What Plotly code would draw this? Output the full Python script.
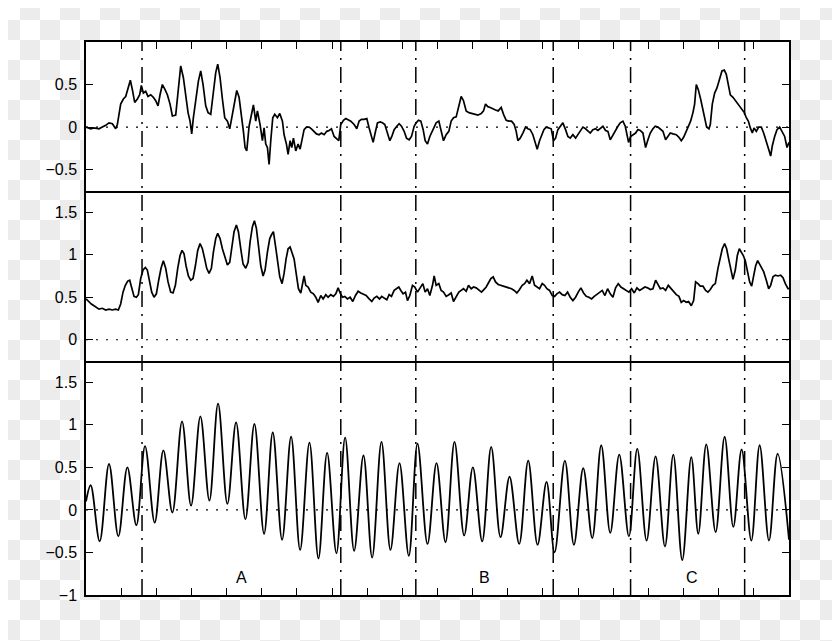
import base64
import plotly.graph_objects as go
from plotly.subplots import make_subplots

# ---------------- data (x in samples, y in signal units) ----------------
top_pts = [
    (0, 0.00), (14, -0.02), (24, -0.01), (39, -0.02), (49, 0.00), (59, 0.02), (69, 0.05), (79, 0.04),
    (89, -0.02), (94, 0.03), (104, 0.27), (112, 0.33), (119, 0.36), (126, 0.46), (133, 0.55), (139, 0.44),
    (146, 0.29), (154, 0.33), (161, 0.38), (166, 0.49), (172, 0.40), (179, 0.42), (186, 0.36), (194, 0.38),
    (202, 0.35), (209, 0.31), (216, 0.25), (222, 0.38), (229, 0.50), (237, 0.44), (244, 0.38), (252, 0.27),
    (259, 0.13), (269, 0.14), (276, 0.42), (284, 0.72), (292, 0.58), (299, 0.35), (306, 0.17), (312, 0.07),
    (317, -0.08), (322, 0.11), (329, 0.31), (337, 0.54), (344, 0.66), (351, 0.50), (359, 0.25), (366, 0.17),
    (374, 0.15), (382, 0.38), (389, 0.64), (395, 0.74), (402, 0.58), (409, 0.33), (416, 0.11), (424, 0.07),
    (431, -0.02), (439, 0.15), (446, 0.31), (452, 0.43), (459, 0.35), (466, 0.15), (472, -0.05), (477, -0.24),
    (482, -0.28), (489, 0.01), (496, 0.13), (502, 0.26), (509, 0.07), (514, 0.19), (522, 0.03), (529, -0.16),
    (534, -0.01), (539, -0.20), (544, -0.24), (549, -0.44), (554, -0.16), (560, 0.11), (566, 0.15), (574, 0.11),
    (581, 0.16), (589, 0.07), (594, -0.09), (601, -0.20), (606, -0.32), (612, -0.16), (617, -0.24), (622, -0.13),
    (629, -0.28), (636, -0.20), (642, -0.26), (647, -0.15), (654, -0.03), (661, 0.00), (669, 0.00), (676, -0.02),
    (684, -0.05), (691, -0.08), (699, -0.09), (706, -0.07), (714, -0.09), (722, -0.05), (729, -0.04), (736, -0.02),
    (744, -0.11), (751, -0.13), (758, -0.16), (764, 0.03), (772, 0.08), (779, 0.10), (786, 0.09), (794, 0.07),
    (804, 0.03), (812, -0.02), (819, 0.07), (826, 0.09), (834, 0.09), (842, 0.10), (849, -0.01), (856, -0.13),
    (861, -0.18), (867, -0.07), (874, 0.05), (882, 0.06), (889, 0.05), (896, 0.03), (904, -0.07), (911, -0.16),
    (917, -0.11), (924, -0.03), (932, 0.01), (939, 0.04), (946, 0.01), (954, -0.05), (961, -0.13), (969, -0.15),
    (976, -0.11), (984, 0.01), (990, 0.05), (997, 0.08), (1004, 0.07), (1011, -0.03), (1017, -0.16), (1024, -0.20),
    (1031, -0.11), (1039, -0.05), (1046, 0.01),
    (1050, 0.05), (1058, 0.07), (1065, -0.04), (1072, -0.16), (1080, -0.09), (1088, -0.05), (1095, 0.07),
    (1102, 0.11), (1110, 0.12), (1117, 0.23), (1125, 0.36), (1132, 0.31), (1140, 0.19), (1148, 0.17), (1155, 0.16),
    (1165, 0.15), (1175, 0.14), (1185, 0.16), (1192, 0.19), (1198, 0.27), (1205, 0.24), (1212, 0.23), (1220, 0.21),
    (1228, 0.20), (1236, 0.19), (1245, 0.23), (1252, 0.15), (1260, 0.08), (1268, 0.07), (1276, 0.07), (1284, 0.03),
    (1290, -0.05), (1295, -0.16), (1302, -0.13), (1310, -0.07), (1318, 0.00), (1325, -0.02), (1332, -0.03),
    (1340, -0.09), (1347, -0.20), (1353, -0.26), (1360, -0.16), (1366, -0.09), (1373, -0.03), (1380, 0.00),
    (1388, -0.01), (1395, -0.02), (1402, -0.16), (1408, -0.13), (1415, -0.03), (1422, 0.01), (1430, 0.05),
    (1438, -0.03), (1445, -0.11), (1452, -0.13), (1460, -0.09), (1468, -0.13), (1475, -0.09), (1483, -0.04),
    (1490, 0.00), (1498, -0.02), (1505, -0.05), (1512, -0.07), (1520, -0.03), (1528, -0.02), (1535, -0.04),
    (1542, -0.02), (1550, 0.01), (1558, -0.04), (1565, -0.05), (1572, -0.15), (1580, -0.09), (1587, -0.04),
    (1595, 0.01), (1602, 0.05), (1610, 0.07), (1617, 0.01), (1622, -0.07), (1627, -0.18), (1633, -0.11),
    (1640, -0.09), (1648, -0.07), (1655, -0.03), (1662, -0.04), (1670, -0.07), (1678, -0.24), (1685, -0.15),
    (1692, -0.07), (1700, -0.02), (1707, 0.01), (1715, 0.00), (1722, -0.02), (1730, -0.05), (1738, -0.15),
    (1745, -0.11), (1752, -0.07), (1760, -0.08), (1770, -0.09), (1778, -0.12), (1785, -0.16), (1792, -0.12),
    (1800, -0.05), (1807, 0.01), (1813, 0.07), (1820, 0.17), (1825, 0.27), (1830, 0.50), (1836, 0.44),
    (1843, 0.33), (1850, 0.19), (1856, 0.07), (1861, 0.00), (1868, -0.02), (1872, 0.03), (1878, 0.27),
    (1885, 0.40), (1892, 0.46), (1900, 0.56), (1907, 0.66), (1914, 0.67), (1920, 0.62), (1926, 0.50),
    (1932, 0.38), (1940, 0.35), (1948, 0.31), (1955, 0.27), (1962, 0.23), (1968, 0.21), (1974, 0.17),
    (1980, 0.11), (1986, 0.07), (1992, -0.01), (1998, -0.07), (2003, -0.01), (2010, -0.05), (2017, 0.00),
    (2025, 0.00), (2032, -0.07), (2040, -0.16), (2047, -0.26), (2053, -0.34), (2058, -0.22), (2065, -0.11),
    (2072, -0.03), (2080, 0.00), (2088, -0.05), (2095, -0.11), (2102, -0.24), (2108, -0.18),
]

mid_pts = [
    (0, 0.48), (9, 0.44), (16, 0.42), (24, 0.40), (32, 0.38), (39, 0.36), (49, 0.37), (59, 0.35), (69, 0.36),
    (79, 0.35), (89, 0.36), (97, 0.35), (104, 0.42), (111, 0.56), (118, 0.64), (125, 0.69), (131, 0.70),
    (137, 0.60), (144, 0.51), (151, 0.50), (157, 0.53), (164, 0.72), (171, 0.82), (178, 0.85), (184, 0.82),
    (190, 0.70), (197, 0.56), (204, 0.50), (211, 0.54), (218, 0.70), (225, 0.84), (232, 0.93), (239, 0.84),
    (246, 0.68), (254, 0.56), (261, 0.55), (268, 0.64), (275, 0.84), (282, 0.99), (288, 1.05), (294, 1.01),
    (300, 0.87), (307, 0.75), (314, 0.70), (321, 0.72), (328, 0.87), (335, 1.05), (342, 1.13), (349, 1.07),
    (356, 0.95), (362, 0.84), (369, 0.78), (376, 0.84), (382, 1.03), (389, 1.19), (395, 1.25), (402, 1.19),
    (409, 1.07), (416, 0.97), (424, 0.88), (431, 0.91), (437, 1.07), (444, 1.27), (451, 1.35), (457, 1.27),
    (464, 1.07), (471, 0.89), (479, 0.84), (486, 0.91), (492, 1.15), (499, 1.33), (505, 1.40), (511, 1.31),
    (517, 1.11), (524, 0.87), (531, 0.75), (537, 0.82), (544, 1.03), (551, 1.19), (557, 1.24), (562, 1.27),
    (568, 1.11), (574, 0.91), (581, 0.74), (588, 0.66), (594, 0.78), (600, 0.95), (606, 1.07), (612, 1.09),
    (618, 1.03), (624, 0.95), (631, 0.76), (637, 0.60), (644, 0.55), (649, 0.66), (654, 0.75), (659, 0.64),
    (666, 0.62), (674, 0.56), (682, 0.54), (689, 0.50), (696, 0.44), (704, 0.52), (711, 0.48), (719, 0.53),
    (726, 0.50), (734, 0.53), (742, 0.51), (749, 0.54), (756, 0.61), (762, 0.55), (769, 0.50), (776, 0.51),
    (784, 0.48), (792, 0.50), (800, 0.45), (808, 0.52), (816, 0.57), (824, 0.55), (832, 0.53), (840, 0.52),
    (849, 0.48), (857, 0.45), (864, 0.49), (872, 0.51), (880, 0.48), (887, 0.51), (894, 0.49), (902, 0.47),
    (909, 0.53), (916, 0.51), (924, 0.58), (931, 0.60), (938, 0.62), (944, 0.58), (951, 0.54), (958, 0.56),
    (964, 0.46), (971, 0.52), (979, 0.64), (986, 0.62), (994, 0.56), (1002, 0.61), (1010, 0.66), (1017, 0.56),
    (1024, 0.60), (1031, 0.52), (1039, 0.64), (1044, 0.75),
    (1050, 0.64), (1058, 0.66), (1065, 0.58), (1072, 0.56), (1080, 0.51), (1088, 0.53), (1095, 0.55),
    (1102, 0.45), (1110, 0.50), (1118, 0.56), (1125, 0.58), (1132, 0.60), (1140, 0.57), (1147, 0.64),
    (1155, 0.60), (1162, 0.62), (1170, 0.61), (1178, 0.59), (1186, 0.56), (1193, 0.59), (1200, 0.62),
    (1207, 0.67), (1214, 0.72), (1221, 0.74), (1228, 0.68), (1236, 0.65), (1244, 0.64), (1252, 0.63),
    (1260, 0.62), (1268, 0.61), (1276, 0.60), (1284, 0.58), (1292, 0.55), (1300, 0.59), (1308, 0.64),
    (1315, 0.66), (1322, 0.70), (1330, 0.66), (1338, 0.75), (1345, 0.64), (1352, 0.62), (1360, 0.60),
    (1368, 0.66), (1375, 0.64), (1382, 0.60), (1390, 0.58), (1398, 0.52), (1405, 0.51), (1412, 0.54),
    (1420, 0.56), (1428, 0.53), (1436, 0.52), (1444, 0.56), (1452, 0.50), (1460, 0.46), (1468, 0.50),
    (1476, 0.56), (1484, 0.61), (1492, 0.55), (1500, 0.51), (1508, 0.50), (1516, 0.48), (1524, 0.51),
    (1532, 0.53), (1540, 0.55), (1548, 0.58), (1556, 0.52), (1564, 0.60), (1572, 0.54), (1580, 0.50),
    (1588, 0.61), (1596, 0.66), (1604, 0.62), (1612, 0.60), (1620, 0.58), (1628, 0.56), (1636, 0.60),
    (1644, 0.55), (1652, 0.61), (1660, 0.58), (1668, 0.60), (1676, 0.62), (1684, 0.61), (1692, 0.59),
    (1700, 0.60), (1708, 0.70), (1715, 0.65), (1722, 0.60), (1730, 0.61), (1738, 0.58), (1746, 0.64),
    (1754, 0.60), (1762, 0.56), (1770, 0.53), (1778, 0.51), (1785, 0.44), (1792, 0.46), (1800, 0.44),
    (1807, 0.45), (1815, 0.40), (1822, 0.46), (1828, 0.68), (1835, 0.66), (1842, 0.63), (1850, 0.63),
    (1858, 0.58), (1865, 0.56), (1872, 0.59), (1880, 0.64), (1887, 0.66), (1895, 0.84), (1902, 0.99),
    (1908, 1.07), (1915, 1.13), (1921, 1.07), (1927, 0.95), (1933, 0.82), (1940, 0.71), (1947, 0.82),
    (1953, 0.99), (1959, 1.07), (1965, 1.03), (1971, 0.99), (1977, 0.93), (1983, 0.82), (1990, 0.68),
    (1996, 0.63), (2002, 0.76), (2008, 0.87), (2014, 0.93), (2020, 0.89), (2026, 0.84), (2032, 0.80),
    (2040, 0.70), (2047, 0.60), (2053, 0.64), (2060, 0.74), (2067, 0.76), (2075, 0.75), (2083, 0.76),
    (2090, 0.73), (2097, 0.66), (2105, 0.60), (2108, 0.60),
]

# peaks and troughs of the oscillating bottom signal
osc_pts = [
    (0, 0.10), (14, 0.29), (41, -0.37), (69, 0.54), (97, -0.31), (124, 0.50), (151, -0.18), (177, 0.75),
    (206, -0.15), (232, 0.70), (259, -0.03), (288, 1.04), (315, 0.05), (343, 1.10), (370, 0.11), (396, 1.25),
    (424, 0.07), (450, 1.03), (478, -0.11), (505, 1.01), (534, -0.28), (560, 0.91), (588, -0.35), (615, 0.86),
    (642, -0.47), (670, 0.79), (697, -0.57), (723, 0.67), (751, -0.51), (777, 0.85), (804, -0.48), (832, 0.64),
    (858, -0.56), (886, 0.80), (913, -0.47), (940, 0.55), (968, -0.54), (994, 0.78), (1024, -0.40), (1051, 0.55),
    (1078, -0.38), (1105, 0.80), (1134, -0.30), (1160, 0.50), (1188, -0.37), (1215, 0.74), (1243, -0.32),
    (1270, 0.39), (1299, -0.40), (1326, 0.58), (1354, -0.41), (1381, 0.33), (1405, -0.50), (1436, 0.58),
    (1463, -0.41), (1491, 0.49), (1518, -0.33), (1545, 0.76), (1572, -0.27), (1599, 0.65), (1628, -0.31),
    (1653, 0.72), (1681, -0.36), (1708, 0.63), (1736, -0.43), (1761, 0.65), (1788, -0.59), (1815, 0.62),
    (1836, -0.28), (1860, 0.77), (1888, -0.26), (1915, 0.86), (1941, -0.20), (1966, 0.71), (1995, -0.36),
    (2020, 0.76), (2048, -0.36), (2074, 0.66), (2108, -0.35),
]

boundaries = [168, 764, 989, 1401, 1633, 1975]
segment_labels = ["A", "B", "C"]
segment_label_x = [467, 1195, 1818]
segment_label_y = [-0.8, -0.8, -0.8]

x_span = [0, 2108]
x_tick_step = 105.4
y1_ticks = [-0.5, 0, 0.5]
y1_text = ["\u22120.5", "0", "0.5"]
y2_ticks = [0, 0.5, 1, 1.5]
y2_text = ["0", "0.5", "1", "1.5"]
y3_ticks = [-1, -0.5, 0, 0.5, 1, 1.5]
y3_text = ["\u22121", "\u22120.5", "0", "0.5", "1", "1.5"]
y_ranges = [[-0.75, 1.0], [-0.25, 1.75], [-1.0, 1.75]]

# ---------------- figure ----------------
# the page adds an 8px body margin, so the figure is 8px smaller and margins shifted
OFF = 8
W, H = 840 - OFF, 641 - OFF
L, R, T, B = 86 - OFF, 51, 42 - OFF, 46
FONT = dict(family="Liberation Sans, Arial, sans-serif", size=16, color="black")

fig = make_subplots(rows=3, cols=1, shared_xaxes=False, vertical_spacing=0,
                    row_heights=[1.75, 2.0, 2.75])

for row, pts, lw in zip([1, 2, 3], [top_pts, mid_pts, osc_pts], [1.7, 1.7, 1.8]):
    xs = [p[0] for p in pts]
    ys = [p[1] for p in pts]
    line = dict(color="black", width=lw)
    if row == 3:
        line.update(shape="spline", smoothing=1.0)
    fig.add_trace(go.Scatter(x=xs, y=ys, mode="lines", line=line,
                             hoverinfo="skip", showlegend=False), row=row, col=1)

axis_common = dict(showgrid=False, zeroline=False, showline=True, linecolor="black",
                   linewidth=1.5, tickcolor="black", tickwidth=1.3, ticklen=7)

for row in [1, 2, 3]:
    xa = dict(axis_common, range=x_span, tick0=0, dtick=x_tick_step, showticklabels=False)
    if row == 1:
        xa.update(side="top", ticks="inside", mirror=True)
    elif row == 2:
        xa.update(ticks="", mirror=False)
    else:
        xa.update(ticks="inside", mirror=False)
    fig.update_xaxes(row=row, col=1, **xa)

for row, tv, tt, rg in zip([1, 2, 3], [y1_ticks, y2_ticks, y3_ticks],
                           [y1_text, y2_text, y3_text], y_ranges):
    fig.update_yaxes(row=row, col=1, **axis_common, range=rg, tickmode="array",
                     tickvals=tv, ticktext=tt, ticks="inside", mirror="ticks",
                     tickfont=FONT, ticklabelstandoff=4)

shapes = []
for xr, yr in [("x", "y"), ("x2", "y2"), ("x3", "y3")]:
    shapes.append(dict(type="line", xref=xr + " domain", yref=yr, x0=0, x1=1, y0=0, y1=0,
                       line=dict(color="black", width=1.2, dash="2px,8px"), layer="above"))
for bx in boundaries:
    shapes.append(dict(type="line", xref="x", yref="paper", x0=bx, x1=bx, y0=0, y1=1,
                       line=dict(color="black", width=1.5, dash="16px,7px,2px,7px"),
                       layer="above"))

annotations = []
for txt, ax_, ay_ in zip(segment_labels, segment_label_x, segment_label_y):
    annotations.append(dict(text=txt, x=ax_, y=ay_, xref="x3", yref="y3", showarrow=False,
                            font=FONT, xanchor="center", yanchor="middle"))

# checkerboard backdrop (transparent-image look of the reference)
pw, ph = W - L - R, H - T - B
svg = (
    f'<svg xmlns="http://www.w3.org/2000/svg" width="{W}" height="{H}">'
    f'<defs><pattern id="c" x="{-OFF}" y="{-OFF}" width="40" height="40" patternUnits="userSpaceOnUse">'
    '<rect width="40" height="40" fill="#ffffff"/>'
    '<rect x="20" y="0" width="20" height="20" fill="#ececec"/>'
    '<rect x="0" y="20" width="20" height="20" fill="#ececec"/></pattern></defs>'
    f'<rect width="{W}" height="{H}" fill="url(#c)"/>'
    f'<rect x="{L}" y="{T}" width="{pw}" height="{ph}" fill="#ffffff"/></svg>'
)
src = "data:image/svg+xml;base64," + base64.b64encode(svg.encode()).decode()

fig.update_layout(
    width=W, height=H, margin=dict(l=L, r=R, t=T, b=B, pad=0),
    paper_bgcolor="white", plot_bgcolor="rgba(0,0,0,0)",
    font=FONT, shapes=shapes, annotations=annotations, showlegend=False,
    images=[dict(source=src, xref="paper", yref="paper", x=-L / pw, y=1 + T / ph,
                 sizex=W / pw, sizey=H / ph, sizing="stretch", xanchor="left",
                 yanchor="top", layer="below")],
)

fig.write_html("out.html")
